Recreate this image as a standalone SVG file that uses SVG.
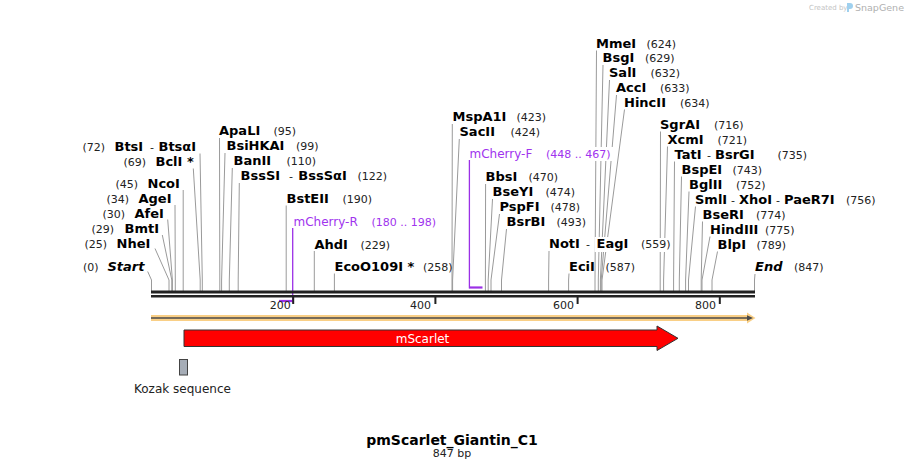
<svg xmlns="http://www.w3.org/2000/svg" width="906" height="470" viewBox="0 0 906 470">
<style>
text{font-family:"DejaVu Sans","Liberation Sans",sans-serif;fill:#000}
.e{font-size:13px;font-weight:bold}
.i{font-size:13px;font-weight:bold;font-style:italic}
.n{font-size:11px;fill:#222}
.p{font-size:12px;fill:#a033ee}
.pn{font-size:11px;fill:#a033ee}
.c polyline{fill:none;stroke:#9a9a9a;stroke-width:1}
.bg{fill:#fff}
.tk{font-size:11px;fill:#222;text-anchor:end}
</style>
<rect width="906" height="470" fill="#fff"/>

<g id="watermark">
<text x="809" y="10" style="font-size:7px;fill:#c4c4c4">Created by</text>
<path d="M847,3 h3 q3,0 3,3 q0,3 -3,3 h-1 v3 h-2 z" fill="#9fd0ee"/>
<text x="855" y="11" style="font-size:9.5px;fill:#b0b0b0">SnapGene</text>
</g>

<g id="connectors" class="c">
<polyline points="147.7,271.5 151.5,280 151.5,291"/>
<polyline points="155,248.5 169,280 169,291"/>
<polyline points="162.3,235 171.8,280 171.8,291"/>
<polyline points="167.7,219.5 172.4,280 172.4,291"/>
<polyline points="175,205 175.3,280 175.3,291"/>
<polyline points="183.2,190 183.2,280 183.2,291"/>
<polyline points="193.3,168.5 200.2,280 200.2,291"/>
<polyline points="200,153.5 202.3,280 202.3,291"/>
<polyline points="219.5,138 219.8,280 219.8,291"/>
<polyline points="225,153 221.6,280 221.6,291"/>
<polyline points="232.3,168 229.3,280 229.3,291"/>
<polyline points="239.3,183 238.2,280 238.2,291"/>
<polyline points="286.2,205.5 286.2,280 286.2,291"/>
<polyline points="314.3,251 314.3,280 314.3,291"/>
<polyline points="334.4,273.5 334.4,280 334.4,291"/>
<polyline points="452.3,124 452,280 452,291"/>
<polyline points="459.3,139 452.6,280 452.6,291"/>
<polyline points="485.6,184 485.4,280 485.4,291"/>
<polyline points="492.5,199 488.2,280 488.2,291"/>
<polyline points="499.5,214 491,280 491,291"/>
<polyline points="506.5,229 501.5,280 501.5,291"/>
<polyline points="549,251 548.6,280 548.6,291"/>
<polyline points="569,273.5 568.6,280 568.6,291"/>
<polyline points="596.5,50.5 595,280 595,291"/>
<polyline points="603,65 598.3,280 598.3,291"/>
<polyline points="609.5,80 600.4,280 600.4,291"/>
<polyline points="616.5,95 601.2,280 601.2,291"/>
<polyline points="624.5,109.5 602,280 602,291"/>
<polyline points="660.5,131.5 660.2,280 660.2,291"/>
<polyline points="667.5,146.5 663.6,280 663.6,291"/>
<polyline points="674.5,161.5 673.6,280 673.6,291"/>
<polyline points="681.5,176.5 679.3,280 679.3,291"/>
<polyline points="689,191.5 685.6,280 685.6,291"/>
<polyline points="695.5,206.5 688.5,280 688.5,291"/>
<polyline points="702.5,221.5 701.2,280 701.2,291"/>
<polyline points="710,236.5 702,280 702,291"/>
<polyline points="717.5,251.5 712,280 712,291"/>
<polyline points="755,274 754.5,280 754.5,291"/>
</g>

<g id="primers">
<polyline points="279,301 292.7,301" fill="none" stroke="#9b30e6" stroke-width="2.2"/>
<line x1="292.7" y1="228" x2="292.7" y2="302.5" stroke="#9b30e6" stroke-width="1.3"/>
<polyline points="469.4,287.5 482.5,287.5" fill="none" stroke="#9b30e6" stroke-width="2.2"/>
<line x1="469.4" y1="160" x2="469.4" y2="288.5" stroke="#9b30e6" stroke-width="1.3"/>
</g>

<g id="ruler">
<rect x="151" y="290.5" width="604" height="3" fill="#222"/>
<rect x="151" y="295" width="604" height="2.5" fill="#222"/>
<rect x="292.2" y="297" width="2" height="7" fill="#222"/>
<rect x="434.4" y="297" width="2" height="7" fill="#222"/>
<rect x="576.6" y="297" width="2" height="7" fill="#222"/>
<rect x="718.8" y="297" width="2" height="7" fill="#222"/>
<text class="tk" x="290.8" y="308.5">200</text>
<text class="tk" x="431" y="308.5">400</text>
<text class="tk" x="574" y="308.5">600</text>
<text class="tk" x="716" y="308.5">800</text>
</g>

<g id="label-bg">
<rect class="bg" x="544" y="147" width="73" height="14"/>
<rect class="bg" x="594.5" y="237" width="35" height="15"/>
<rect class="bg" x="639" y="238" width="30" height="14"/>
</g>

<g id="enz-BtsI"><text class="n" x="82.5" y="151">(72)</text><text class="e" x="114.5" y="151">BtsI</text><text class="n" x="150" y="151">-</text><text class="e" x="158.5" y="151">BtsαI</text></g>
<g id="enz-BclI"><text class="n" x="123.5" y="165.5">(69)</text><text class="e" x="155.5" y="165.5">BclI *</text></g>
<g id="enz-NcoI"><text class="n" x="115.5" y="188">(45)</text><text class="e" x="147.5" y="188">NcoI</text></g>
<g id="enz-AgeI"><text class="n" x="106.5" y="203">(34)</text><text class="e" x="138.5" y="203">AgeI</text></g>
<g id="enz-AfeI"><text class="n" x="102.5" y="217.5">(30)</text><text class="e" x="134.5" y="217.5">AfeI</text></g>
<g id="enz-BmtI"><text class="n" x="91.5" y="232.5">(29)</text><text class="e" x="124.5" y="232.5">BmtI</text></g>
<g id="enz-NheI"><text class="n" x="84.5" y="248">(25)</text><text class="e" x="116.5" y="248">NheI</text></g>
<g id="start"><text class="n" x="83" y="270.5">(0)</text><text class="i" x="107.5" y="270.5">Start</text></g>

<g id="enz-ApaLI"><text class="e" x="219" y="135">ApaLI</text><text class="n" x="273.5" y="135">(95)</text></g>
<g id="enz-BsiHKAI"><text class="e" x="226.5" y="150">BsiHKAI</text><text class="n" x="296" y="150">(99)</text></g>
<g id="enz-BanII"><text class="e" x="233.5" y="165">BanII</text><text class="n" x="286.5" y="165">(110)</text></g>
<g id="enz-BssSI"><text class="e" x="240.5" y="180">BssSI</text><text class="n" x="289" y="180">-</text><text class="e" x="298.3" y="180">BssSαI</text><text class="n" x="357.5" y="180">(122)</text></g>
<g id="enz-BstEII"><text class="e" x="286.5" y="203">BstEII</text><text class="n" x="342.5" y="203">(190)</text></g>
<g id="primer-mCherry-R"><text class="p" x="293.5" y="225.5">mCherry-R</text><text class="pn" x="371.5" y="225.5">(180 .. 198)</text></g>
<g id="enz-AhdI"><text class="e" x="314.5" y="248.5">AhdI</text><text class="n" x="360.5" y="248.5">(229)</text></g>
<g id="enz-EcoO109I"><text class="e" x="334.5" y="271">EcoO109I *</text><text class="n" x="423" y="271">(258)</text></g>

<g id="enz-MspA1I"><text class="e" x="452.5" y="121">MspA1I</text><text class="n" x="516.5" y="121">(423)</text></g>
<g id="enz-SacII"><text class="e" x="459.5" y="136">SacII</text><text class="n" x="510.5" y="136">(424)</text></g>
<g id="primer-mCherry-F"><text class="p" x="469.5" y="157.5">mCherry-F</text><text class="pn" x="546" y="157.5">(448 .. 467)</text></g>
<g id="enz-BbsI"><text class="e" x="485.5" y="181">BbsI</text><text class="n" x="528.5" y="181">(470)</text></g>
<g id="enz-BseYI"><text class="e" x="492.5" y="196">BseYI</text><text class="n" x="545.5" y="196">(474)</text></g>
<g id="enz-PspFI"><text class="e" x="499.5" y="211">PspFI</text><text class="n" x="550.5" y="211">(478)</text></g>
<g id="enz-BsrBI"><text class="e" x="506.5" y="226">BsrBI</text><text class="n" x="556.5" y="226">(493)</text></g>
<g id="enz-NotI"><text class="e" x="549" y="248">NotI</text><text class="n" x="586" y="248">-</text><text class="e" x="596.5" y="248">EagI</text><text class="n" x="641" y="248">(559)</text></g>
<g id="enz-EciI"><text class="e" x="569" y="270.5">EciI</text><text class="n" x="605.5" y="270.5">(587)</text></g>

<g id="enz-MmeI"><text class="e" x="596" y="47.5">MmeI</text><text class="n" x="646.5" y="47.5">(624)</text></g>
<g id="enz-BsgI"><text class="e" x="602.5" y="62">BsgI</text><text class="n" x="645" y="62">(629)</text></g>
<g id="enz-SalI"><text class="e" x="609" y="77">SalI</text><text class="n" x="650.5" y="77">(632)</text></g>
<g id="enz-AccI"><text class="e" x="616" y="92">AccI</text><text class="n" x="660" y="92">(633)</text></g>
<g id="enz-HincII"><text class="e" x="624" y="106.5">HincII</text><text class="n" x="680" y="106.5">(634)</text></g>

<g id="enz-SgrAI"><text class="e" x="660" y="128.5">SgrAI</text><text class="n" x="714" y="128.5">(716)</text></g>
<g id="enz-XcmI"><text class="e" x="667.5" y="143.5">XcmI</text><text class="n" x="717.5" y="143.5">(721)</text></g>
<g id="enz-TatI"><text class="e" x="674.5" y="158.5">TatI</text><text class="n" x="707" y="158.5">-</text><text class="e" x="715" y="158.5">BsrGI</text><text class="n" x="777.5" y="158.5">(735)</text></g>
<g id="enz-BspEI"><text class="e" x="681.5" y="173.5">BspEI</text><text class="n" x="732.5" y="173.5">(743)</text></g>
<g id="enz-BglII"><text class="e" x="689" y="188.5">BglII</text><text class="n" x="736" y="188.5">(752)</text></g>
<g id="enz-SmlI"><text class="e" x="695" y="203.5">SmlI</text><text class="n" x="731" y="203.5">-</text><text class="e" x="739" y="203.5">XhoI</text><text class="n" x="776" y="203.5">-</text><text class="e" x="784" y="203.5">PaeR7I</text><text class="n" x="846" y="203.5">(756)</text></g>
<g id="enz-BseRI"><text class="e" x="702.5" y="218.5">BseRI</text><text class="n" x="756" y="218.5">(774)</text></g>
<g id="enz-HindIII"><text class="e" x="710" y="233.5">HindIII</text><text class="n" x="765" y="233.5">(775)</text></g>
<g id="enz-BlpI"><text class="e" x="717.5" y="248.5">BlpI</text><text class="n" x="756.5" y="248.5">(789)</text></g>
<g id="end"><text class="i" x="755" y="271">End</text><text class="n" x="794" y="271">(847)</text></g>

<g id="feature-sequence">
<polygon points="151,315 747,315 747,312.5 755.5,318 747,323.5 747,321 151,321" fill="#f9cf86"/>
<line x1="151" y1="318" x2="749" y2="318" stroke="#4a4a4a" stroke-width="1.6"/>
<polygon points="747,315.3 753,318 747,320.7" fill="#4a4a4a"/>
</g>

<g id="feature-mScarlet">
<polygon points="184,330 657,330 657,326 678,338.3 657,350.5 657,346.5 184,346.5" fill="#ff0000" stroke="#333" stroke-width="1"/>
<text x="422.5" y="342.5" style="font-size:12px;fill:#fff;text-anchor:middle">mScarlet</text>
</g>

<g id="feature-Kozak">
<rect x="179.5" y="359.5" width="8" height="15.5" fill="#a6adb7" stroke="#444" stroke-width="1"/>
<text x="134" y="393" style="font-size:12px;fill:#222">Kozak sequence</text>
</g>

<g id="title">
<text x="452" y="445" style="font-size:14px;font-weight:bold;text-anchor:middle">pmScarlet_Giantin_C1</text>
<text x="452" y="456.5" style="font-size:11px;fill:#222;text-anchor:middle">847 bp</text>
</g>
</svg>
